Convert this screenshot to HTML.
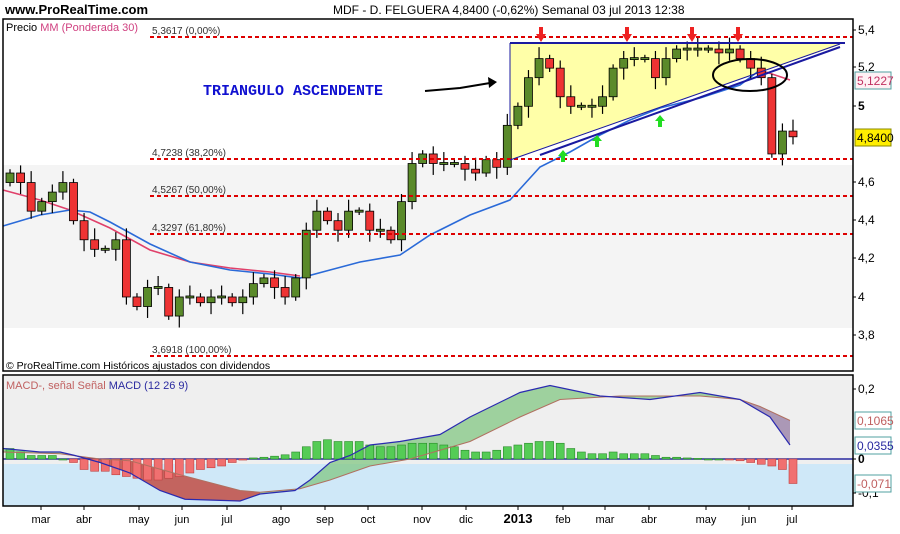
<!DOCTYPE html>
<html><head><meta charset="utf-8"><style>
body{margin:0;background:#fff;width:900px;height:529px;overflow:hidden;font-family:"Liberation Sans",sans-serif}
svg text{font-family:"Liberation Sans",sans-serif}
</style></head><body>
<svg id="s" width="900" height="529" xmlns="http://www.w3.org/2000/svg">
<rect x="0" y="0" width="900" height="529" fill="#fff"/>
<rect x="3" y="165" width="850" height="163" fill="#f4f4f4"/>
<rect x="3" y="376" width="850" height="88" fill="#efefef"/>
<rect x="3" y="464" width="850" height="42" fill="#cfe8f8"/>
<g id="main"></g>
<g stroke="#dd0000" stroke-width="2" stroke-dasharray="4,3">
<line x1="150" y1="37" x2="853" y2="37"/>
<line x1="150" y1="159" x2="853" y2="159"/>
<line x1="150" y1="196" x2="853" y2="196"/>
<line x1="150" y1="234" x2="853" y2="234"/>
<line x1="150" y1="356" x2="853" y2="356"/>
</g>
<g font-size="10" fill="#333">
<text x="152" y="34">5,3617 (0,00%)</text>
<text x="152" y="156">4,7238 (38,20%)</text>
<text x="152" y="193">4,5267 (50,00%)</text>
<text x="152" y="231">4,3297 (61,80%)</text>
<text x="152" y="353">3,6918 (100,00%)</text>
</g>
<g id="over"></g>
<rect x="3" y="19" width="850" height="352" fill="none" stroke="#000" stroke-width="1.5"/>
<rect x="3" y="375" width="850" height="131" fill="none" stroke="#000" stroke-width="1.5"/>
<text x="6" y="31" font-size="11" fill="#000">Precio <tspan fill="#d04080">MM (Ponderada 30)</tspan></text>
<text x="6" y="369" font-size="10.5" fill="#000">© ProRealTime.com  Históricos ajustados con dividendos</text>
<text x="6" y="389" font-size="11" fill="#c06060">MACD-, señal Señal <tspan fill="#2a2aa0">MACD (12 26 9)</tspan></text>
<text x="5" y="14" font-size="13" font-weight="bold" fill="#000">www.ProRealTime.com</text>
<text x="333" y="14" font-size="12" fill="#000">MDF - D. FELGUERA    4,8400 (-0,62%)    Semanal  03 jul 2013 12:38</text>
<text x="203" y="95" font-size="15" font-weight="bold" fill="#1010d0" style="font-family:'Liberation Mono',monospace">TRIANGULO ASCENDENTE</text>
<g font-size="11" fill="#000" id="ax"></g>
</svg>
<script>
const NS="http://www.w3.org/2000/svg";
function el(p,t,a){const e=document.createElementNS(NS,t);for(const k in a)e.setAttribute(k,a[k]);document.getElementById(p).appendChild(e);return e;}
const Y=p=>30+(5.4-p)*190.7;
const MY=v=>459-v*350;
el("main","polygon",{points:"510,43 845,43 510,160",fill:"#ffffa8"});
el("main","line",{x1:510,y1:43,x2:510,y2:160,stroke:"#1a1aa0","stroke-width":1});
el("main","polyline",{points:"3,190 40,200 70,210 110,228 150,250 190,262 230,268 270,272 300,276",fill:"none",stroke:"#e0406a","stroke-width":1.6});
el("main","polyline",{points:"3,226 40,215 70,210 90,212 110,222 150,244 190,262 230,270 270,274 300,278 330,270 360,262 400,255 430,235 470,215 510,200 540,167 570,152 600,135 630,120 660,108 700,98 740,85 760,70",fill:"none",stroke:"#2a6ad8","stroke-width":1.6});
el("main","polyline",{points:"760,70 790,80",fill:"none",stroke:"#e0406a","stroke-width":1.6});
const cl=[4.65,4.6,4.45,4.5,4.55,4.6,4.4,4.3,4.25,4.25,4.3,4.0,3.95,4.05,4.05,3.9,4.0,4.0,3.97,4.0,4.0,3.97,4.0,4.07,4.1,4.05,4.0,4.1,4.35,4.45,4.4,4.35,4.45,4.45,4.35,4.35,4.3,4.5,4.7,4.75,4.7,4.7,4.7,4.67,4.65,4.72,4.68,4.9,5.0,5.15,5.25,5.2,5.05,5.0,5.0,5.0,5.05,5.2,5.25,5.25,5.25,5.15,5.25,5.3,5.3,5.3,5.3,5.28,5.3,5.25,5.2,5.15,4.75,4.87,4.84];
let prev=4.6;const n=cl.length;
for(let i=0;i<n;i++){const x=10+i*(783/(n-1));const o=prev,c=cl[i];
const hi=Math.max(o,c)+0.02+0.02*((i*7)%3),lo=Math.min(o,c)-0.02-0.02*((i*5)%3);
el("main","line",{x1:x,y1:Y(hi),x2:x,y2:Y(lo),stroke:"#000","stroke-width":1.2});
let t=Y(Math.max(o,c)),b=Y(Math.min(o,c));if(b-t<2){t-=1;b+=1;}
el("main","rect",{x:x-4,y:t,width:8,height:b-t,fill:c>=o?"#5a8a2a":"#ee3333",stroke:"#000","stroke-width":0.8});
prev=c;}
el("over","line",{x1:510,y1:43,x2:845,y2:43,stroke:"#1a1aa0","stroke-width":2});
el("over","line",{x1:510,y1:160,x2:840,y2:44,stroke:"#1a1aa0","stroke-width":1});
el("over","line",{x1:540,y1:155,x2:840,y2:47,stroke:"#1a1aa0","stroke-width":2});
el("over","ellipse",{cx:750,cy:75,rx:37,ry:16,fill:"none",stroke:"#000","stroke-width":2});
el("over","polyline",{points:"425,91 460,88 490,83",fill:"none",stroke:"#000","stroke-width":2});
el("over","polygon",{points:"497,82 488,77 489,88",fill:"#000"});
[541,627,692,738].forEach(x=>el("over","polygon",{points:`${x-2},27 ${x+2},27 ${x+2},34 ${x+5},34 ${x},42 ${x-5},34 ${x-2},34`,fill:"#ee2222"}));
[[563,150],[597,135],[660,115]].forEach(([x,y])=>el("over","polygon",{points:`${x-2},${y+12} ${x+2},${y+12} ${x+2},${y+6} ${x+5},${y+6} ${x},${y} ${x-5},${y+6} ${x-2},${y+6}`,fill:"#22dd22"}));
const h=[.03,.02,.01,.01,.01,0,-.01,-.03,-.035,-.035,-.045,-.05,-.055,-.06,-.06,-.055,-.05,-.04,-.03,-.025,-.02,-.01,-.003,.003,.005,.008,.012,.02,.035,.05,.055,.05,.05,.05,.04,.035,.035,.04,.045,.045,.045,.04,.035,.025,.02,.02,.025,.035,.04,.045,.05,.05,.045,.03,.02,.015,.015,.02,.015,.015,.015,.01,.005,.005,.003,.002,0,0,-.002,-.005,-.01,-.015,-.02,-.03,-.07];
const mp=[[3,.03],[40,.02],[60,.02],[75,.01],[100,-.01],[130,-.04],[160,-.09],[185,-.115],[240,-.12],[260,-.1],[295,-.09],[310,-.06],[330,-.01],[350,.01],[370,.04],[400,.05],[420,.06],[440,.07],[470,.12],[520,.19],[550,.21],[600,.18],[650,.17],[700,.19],[740,.17],[770,.12],[790,.04]];
const sp=[[3,.02],[60,.015],[100,0],[130,-.005],[180,-.045],[240,-.09],[260,-.095],[300,-.085],[330,-.06],[370,-.02],[410,0],[470,.05],[520,.12],[560,.17],[620,.18],[700,.18],[740,.17],[760,.15],[790,.11]];
const pts=a=>a.map(([x,v])=>x+","+MY(v)).join(" ");
el("main","polygon",{points:pts(mp)+" "+pts(sp.slice().reverse()),fill:"#7cc47c","fill-opacity":0.7});
el("main","polygon",{points:pts(mp.filter(p=>p[0]>=75&&p[0]<=260))+" "+pts(sp.filter(p=>p[0]>=75&&p[0]<=260).reverse()),fill:"#c85858","fill-opacity":0.9});
el("main","polygon",{points:pts(mp.filter(p=>p[0]>=740))+" "+pts(sp.filter(p=>p[0]>=740).reverse()),fill:"#b080c0","fill-opacity":0.7});
el("main","line",{x1:3,y1:459,x2:853,y2:459,stroke:"#2a2aa0","stroke-width":1.5});
for(let i=0;i<h.length;i++){const x=10+i*(783/(h.length-1));const v=h[i];
el("main","rect",{x:x-4,y:Math.min(MY(v),459),width:8,height:Math.max(1,Math.abs(v)*350),fill:v>=0?"#55cc55":"#f07070",stroke:v>=0?"#2a8a2a":"#c04040","stroke-width":0.6});}
el("main","polyline",{points:pts(sp),fill:"none",stroke:"#b07060","stroke-width":1});
el("main","polyline",{points:pts(mp),fill:"none",stroke:"#2a2ab0","stroke-width":1.2});
const ax=[["5,4",34],["5,2",71],["5",110,1],["4,6",186],["4,4",224],["4,2",262],["4",301],["3,8",339],["0,2",393],["0",463,1],["-0,1",497]];
ax.forEach(([t,y,b])=>{const e=el("ax","text",{x:858,y:y,"font-size":12,"font-weight":b?"bold":"normal"});e.textContent=t;el("ax","line",{x1:853,y1:y-4,x2:856,y2:y-4,stroke:"#000"});});
function box(t,y,fill,stroke,col){el("ax","rect",{x:855,y:y-9,width:36,height:17,fill:fill,stroke:stroke});const e=el("ax","text",{x:857,y:y+4,"font-size":12,fill:col});e.textContent=t;}
box("5,1227",81,"#fff0f4","#50a0a0","#c03060");
box("4,8400",138,"#ffee00","#888800","#000");
box("0,1065",421,"#fff","#50a0a0","#c06060");
box("0,0355",446,"#fff","#50a0a0","#2a2aa0");
box("-0,071",484,"#fff","#50a0a0","#c06060");
const m=[["mar",41],["abr",84],["may",139],["jun",182],["jul",227],["ago",281],["sep",325],["oct",368],["nov",422],["dic",466],["2013",518,1],["feb",563],["mar",605],["abr",649],["may",706],["jun",749],["jul",792]];
m.forEach(([t,x,b])=>{const e=el("ax","text",{x:x,y:523,"font-size":b?13:11,"font-weight":b?"bold":"normal","text-anchor":"middle"});e.textContent=t;el("ax","line",{x1:x,y1:506,x2:x,y2:510,stroke:"#000"});});
</script>
</body></html>
